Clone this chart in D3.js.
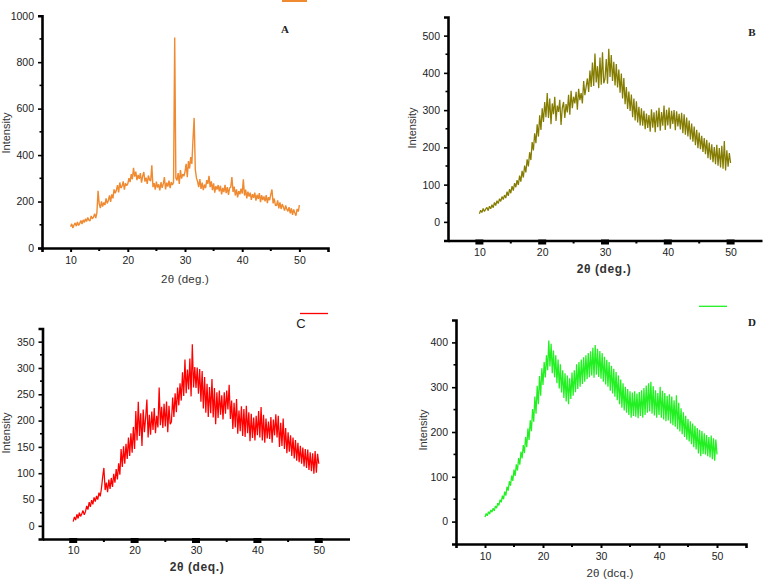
<!DOCTYPE html>
<html><head><meta charset="utf-8">
<script src="https://cdn.jsdelivr.net/npm/d3@7"></script>
<style>body{margin:0;background:#fff}svg{display:block}</style>
</head><body>
<script>
// 2θ scan grid (deg.), 10 to 50 in steps of 0.2
const angles = d3.range(0, 201).map(i => 10 + i * 0.2);

const intensityA = [
92,104,86,99,108,94,112,97,106,118,
103,121,110,126,114,131,120,117,138,126,
133,148,129,152,246,190,172,201,178,196,
185,214,192,205,226,199,231,214,252,236,
248,271,239,282,258,266,287,251,279,268,
276,301,284,318,296,345,307,329,292,315,
298,322,281,309,327,286,303,276,312,294,
288,356,262,279,251,286,260,274,248,283,
259,276,305,252,281,264,290,258,284,271,
283,906,302,291,322,276,335,299,318,309,
328,362,305,374,342,391,362,470,560,338,
302,286,262,297,254,281,249,273,258,292,
276,311,262,287,249,278,238,266,252,271,
244,268,231,259,241,272,236,262,229,258,
262,305,241,264,226,252,218,245,231,256,
234,296,226,251,214,243,221,238,207,232,
216,238,204,229,211,236,197,228,206,222,
201,228,193,219,206,231,252,192,213,184,
182,205,171,196,168,189,176,161,183,167,
158,176,149,171,143,166,152,139,168,157,
185];

const intensityB = [
22,31,25,36,28,34,39,30,42,35,
46,38,52,44,57,49,62,55,68,60,
72,64,81,70,88,77,96,84,104,93,
112,99,124,108,137,119,151,133,168,149,
187,166,214,192,238,211,262,229,286,247,
305,268,322,281,346,279,331,262,318,289,
336,271,312,295,328,260,306,322,279,316,
294,341,288,352,305,336,318,349,301,357,
327,346,318,378,340,363,385,349,406,362,
428,365,452,374,418,359,441,368,455,372,
384,437,371,465,389,448,378,430,366,424,
361,409,347,398,331,386,316,362,303,350,
298,342,281,331,272,324,267,309,259,305,
258,298,249,291,252,287,242,302,253,294,
241,299,254,306,245,295,258,312,247,301,
259,307,250,298,263,300,246,297,256,290,
248,293,238,289,234,280,229,272,221,264,
215,256,206,247,198,240,195,231,188,225,
182,220,171,213,167,208,160,201,155,207,
151,198,146,204,143,217,138,192,148,185,
158];

const intensityC = [
8,17,11,22,14,25,18,23,29,21,
27,38,31,45,36,49,41,54,46,57,
50,63,56,71,93,110,68,82,64,88,
70,91,74,99,82,108,88,119,97,146,
112,151,118,156,127,168,133,176,139,188,
146,218,162,236,171,214,152,221,178,206,
240,168,211,173,217,182,224,176,209,187,
263,191,226,186,232,189,236,178,228,193,
198,244,207,252,216,263,229,271,238,292,
247,316,252,297,259,318,246,345,263,302,
262,301,251,298,236,294,223,283,215,270,
207,264,214,279,206,262,193,254,205,257,
211,248,202,254,213,257,221,268,203,238,
184,234,187,241,175,219,180,227,171,222,
169,228,176,216,161,213,167,206,162,209,
172,218,168,226,162,211,158,204,166,198,
165,207,158,202,172,212,168,209,150,196,
152,204,146,186,138,178,141,172,133,168,
128,163,124,158,121,152,118,149,113,146,
110,145,106,140,104,138,99,142,101,137,
118];

const intensityD = [
10,18,13,22,17,26,21,30,24,35,
30,41,36,49,43,58,50,67,58,78,
69,90,80,103,91,116,102,128,114,142,
127,156,141,171,153,189,166,208,182,226,
202,251,223,279,241,303,262,325,281,342,
305,356,322,371,338,404,346,397,331,382,
322,371,309,362,297,351,288,338,276,331,
268,326,262,320,274,333,281,338,289,351,
296,356,301,362,307,367,312,371,318,376,
322,380,326,388,321,394,328,386,323,381,
319,376,312,368,306,361,301,356,292,348,
286,341,279,334,271,326,262,317,254,309,
248,301,243,296,238,291,232,288,236,291,
234,286,231,289,236,293,232,298,238,304,
243,309,246,312,241,302,237,293,232,287,
238,301,232,292,228,287,224,281,226,284,
219,279,215,271,212,282,206,265,201,253,
195,244,189,236,183,229,179,224,173,219,
166,214,161,209,152,205,146,202,151,197,
150,193,146,189,143,192,139,186,136,183,
150];

const xTicks = [10, 20, 30, 40, 50];
const yTicksA = [0, 200, 400, 600, 800, 1000];
const yTicksB = [0, 100, 200, 300, 400, 500];
const yTicksC = [0, 50, 100, 150, 200, 250, 300, 350];
const yTicksD = [0, 100, 200, 300, 400];

const svg = d3.select("body").append("svg").attr("width", 766).attr("height", 579);

const panels = [
  {key:"A", data:intensityA, color:"#F08A30", sw:1.4, xr:[42,328], yd:[0,1000], yr:[248,15.7], yt:yTicksA, ym:100,
   block:false, title:"2θ (deg.)", tBold:false, tx:185, ty:283, ix:10, iy:133, lbl:{t:"A",x:285,y:33,serif:true},
   leg:{x1:282,x2:307,y:0.5,w:3}},
  {key:"B", data:intensityB, color:"#847C00", sw:1.25, xr:[448,762], yd:[-50,550], yr:[240.5,17], yt:yTicksB, ym:50,
   block:true, title:"2θ (deg.)", tBold:true, tx:604, ty:273, ix:416, iy:128, lbl:{t:"B",x:752,y:36,serif:true}},
  {key:"C", data:intensityC, color:"#FF0000", sw:1.25, xr:[42.5,349.5], yd:[-25,375], yr:[539,328.5], yt:yTicksC, ym:25,
   block:true, title:"2θ (deq.)", tBold:true, tx:197, ty:571, ix:10, iy:433, lbl:{t:"C",x:301,y:328,serif:false},
   leg:{x1:300,x2:328,y:313.5,w:1.3}},
  {key:"D", data:intensityD, color:"#22F022", sw:1.25, xr:[456,746], yd:[-50,450], yr:[544,320], yt:yTicksD, ym:50,
   block:false, title:"2θ (dcq.)", tBold:false, tx:610, ty:577, ix:427, iy:430, lbl:{t:"D",x:752,y:326,serif:true},
   leg:{x1:699,x2:727,y:306.3,w:1.3}}
];

panels.forEach(p => {
  const x = d3.scaleLinear().domain([5, 55]).range(p.xr);
  const y = d3.scaleLinear().domain(p.yd).range(p.yr);
  const g = svg.append("g");

  const line = d3.line().x((d, i) => x(angles[i])).y(d => y(d));
  g.append("path").datum(p.data).attr("d", line)
    .attr("fill", "none").attr("stroke", p.color).attr("stroke-width", p.sw).attr("stroke-linejoin", "bevel");

  const xAxis = d3.axisBottom(x).tickValues(xTicks).tickFormat(d3.format("d"))
    .tickSize(p.block ? 0 : 4).tickPadding(p.block ? 8 : 5);
  const gx = g.append("g").attr("transform", `translate(0,${p.yr[0]})`).call(xAxis);
  gx.select(".domain").attr("stroke", "#000").attr("stroke-width", 2.6);
  gx.selectAll("text").attr("font-family", "Liberation Sans, Arial, sans-serif").attr("font-size", 10.5).attr("fill", "#222");
  gx.selectAll(".tick line").attr("stroke", "#000").attr("stroke-width", 2);
  g.selectAll(null).data([15, 25, 35, 45]).enter().append("line")
    .attr("x1", d => x(d)).attr("x2", d => x(d)).attr("y1", p.yr[0]).attr("y2", p.yr[0] + 3)
    .attr("stroke", "#000").attr("stroke-width", 2);
  if (p.block) {
    g.selectAll(null).data(xTicks).enter().append("rect")
      .attr("x", d => x(d) - 4).attr("y", p.yr[0] - 1).attr("width", 8).attr("height", 5).attr("fill", "#000");
  }

  const yAxis = d3.axisLeft(y).tickValues(p.yt).tickFormat(d3.format("d")).tickSize(4).tickPadding(4);
  const gy = g.append("g").attr("transform", `translate(${p.xr[0]},0)`).call(yAxis);
  gy.select(".domain").attr("stroke", "#000").attr("stroke-width", 2.6);
  gy.selectAll(".tick line").attr("stroke", "#000").attr("stroke-width", 1.6);
  gy.selectAll("text").attr("font-family", "Liberation Sans, Arial, sans-serif").attr("font-size", 10.5).attr("fill", "#222");
  const minors = d3.range(p.yt[0] + p.ym, p.yd[1], p.ym * 2);
  g.selectAll(null).data(minors).enter().append("line")
    .attr("x1", p.xr[0]).attr("x2", p.xr[0] - 2.5).attr("y1", d => y(d)).attr("y2", d => y(d))
    .attr("stroke", "#000").attr("stroke-width", 1.6);

  g.append("text").attr("x", p.tx).attr("y", p.ty).attr("text-anchor", "middle")
    .attr("font-family", "Liberation Sans, Arial, sans-serif")
    .attr("font-size", p.tBold ? 12 : 11.5).attr("font-weight", p.tBold ? "bold" : "normal")
    .attr("letter-spacing", p.tBold ? 0.6 : 0.2).attr("fill", "#333").text(p.title);
  g.append("text").attr("transform", `translate(${p.ix},${p.iy}) rotate(-90)`).attr("text-anchor", "middle")
    .attr("font-family", "Liberation Sans, Arial, sans-serif").attr("font-size", 11).attr("fill", "#333").text("Intensity");

  g.append("text").attr("x", p.lbl.x).attr("y", p.lbl.y).attr("text-anchor", "middle")
    .attr("font-family", p.lbl.serif ? "Liberation Serif, serif" : "Liberation Sans, Arial, sans-serif")
    .attr("font-weight", p.lbl.serif ? "bold" : "normal")
    .attr("font-size", p.lbl.serif ? 11 : 13).attr("fill", "#222").text(p.lbl.t);

  if (p.leg) {
    g.append("line").attr("x1", p.leg.x1).attr("x2", p.leg.x2).attr("y1", p.leg.y).attr("y2", p.leg.y)
      .attr("stroke", p.color).attr("stroke-width", p.leg.w);
  }
});
</script>
</body></html>
